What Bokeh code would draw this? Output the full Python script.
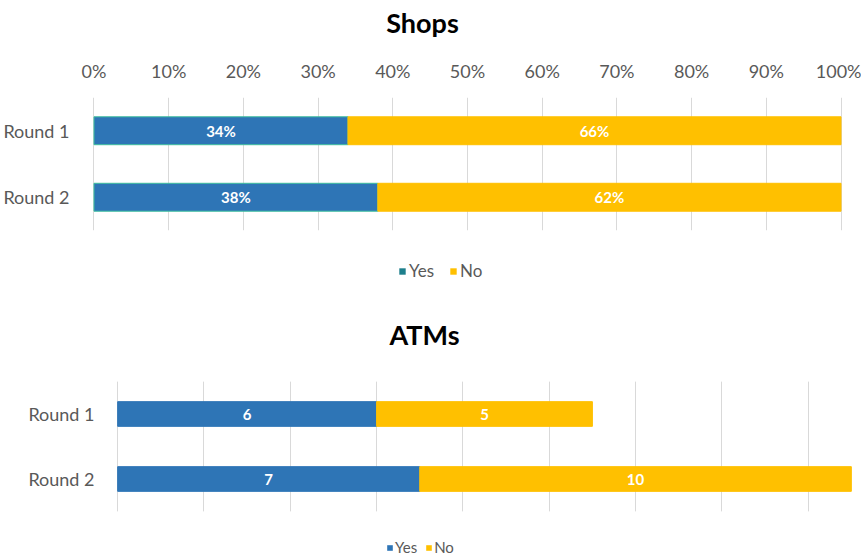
from bokeh.plotting import figure
from bokeh.models import (Range1d, FactorRange, FixedTicker, PrintfTickFormatter, Grid,
                          ColumnDataSource, LabelSet, Legend, LegendItem, Label)
from bokeh.layouts import column
from bokeh.core.properties import value
from bokeh.embed import file_html
from bokeh.resources import INLINE

# ---- data ----
rounds = ["Round 1", "Round 2"]
shops_yes = [34, 38]
shops_no = [66, 62]
atms_yes = [6, 7]
atms_no = [5, 10]
pct_ticks = [0, 10, 20, 30, 40, 50, 60, 70, 80, 90, 100]
atm_grid_ticks = [0, 2, 4, 6, 8, 10, 12, 14, 16]

FONT = "Lato"
BLUE = "#2E75B6"
YELLOW = "#FFC000"
TEAL = "#1D7F8C"
GRAY = "#595959"
GRID = "#D9D9D9"
W = 861


def stacked_source(yes, no, pct):
    suffix = "%" if pct else ""
    return ColumnDataSource(dict(
        cat=rounds,
        yes=yes,
        total=[a + b for a, b in zip(yes, no)],
        mid_yes=[a / 2 for a in yes],
        mid_no=[a + b / 2 for a, b in zip(yes, no)],
        lbl_yes=[f"{a}{suffix}" for a in yes],
        lbl_no=[f"{b}{suffix}" for b in no],
    ))


def style_yaxis(p, standoff):
    p.yaxis.axis_line_color = None
    p.yaxis.major_tick_line_color = None
    p.yaxis.minor_tick_line_color = None
    p.yaxis.major_tick_out = 0
    p.yaxis.major_label_standoff = standoff
    p.yaxis.major_label_text_font = FONT
    p.yaxis.major_label_text_font_size = "18px"
    p.yaxis.major_label_text_color = GRAY
    p.ygrid.grid_line_color = None
    p.outline_line_color = None
    p.frame_align = False


def add_labels(p, src):
    for xf, tf in (("mid_yes", "lbl_yes"), ("mid_no", "lbl_no")):
        p.add_layout(LabelSet(x=xf, y="cat", text=tf, source=src,
                              text_align="center", text_baseline="middle",
                              text_color="white", text_font_style="bold",
                              text_font_size="15px", text_font=value(FONT)))


def text_fig(h):
    f = figure(width=W, height=h, x_range=Range1d(0, W), y_range=Range1d(0, h),
               x_axis_location=None, y_axis_location=None, min_border=0,
               output_backend="svg", toolbar_location=None)
    f.outline_line_color = None
    f.grid.visible = False
    f.frame_align = False
    return f


def title_label(f, text, x, y):
    f.add_layout(Label(x=x, y=y, text=text, text_align="center", text_baseline="middle",
                       text_font=FONT, text_font_size="27px", text_font_style="bold",
                       text_color="#000000"))


src1 = stacked_source(shops_yes, shops_no, True)
src2 = stacked_source(atms_yes, atms_no, False)

# ---- title "Shops" ----
HA = 50
fa = text_fig(HA)
title_label(fa, "Shops", 422, HA - 22)

# ---- Shops chart ----
p1 = figure(y_range=FactorRange(factors=rounds[::-1]), x_range=Range1d(-0.2, 100.2),
            width=W, height=190, x_axis_location="above",
            output_backend="svg", toolbar_location=None,
            min_border_left=91, min_border_right=19, min_border_top=47, min_border_bottom=10)
style_yaxis(p1, 23)
p1.xaxis.ticker = FixedTicker(ticks=pct_ticks)
p1.xaxis.formatter = PrintfTickFormatter(format="%d%%")
p1.xaxis.axis_line_color = None
p1.xaxis.major_tick_line_color = None
p1.xaxis.minor_tick_line_color = None
p1.xaxis.major_tick_out = 0
p1.xaxis.major_label_standoff = 16
p1.xaxis.major_label_text_font = FONT
p1.xaxis.major_label_text_font_size = "18px"
p1.xaxis.major_label_text_color = GRAY
p1.xgrid.ticker = FixedTicker(ticks=pct_ticks)
p1.xgrid.grid_line_color = GRID
p1.hbar(y="cat", left=0, right="yes", height=0.42, source=src1,
        fill_color=BLUE, line_color="#3FBF9F", line_width=1)
p1.hbar(y="cat", left="yes", right="total", height=0.42, source=src1,
        fill_color=YELLOW, line_color=YELLOW)
add_labels(p1, src1)

# ---- legend 1 + title "ATMs" ----
HB = 136
fb = text_fig(HB)
ra = fb.hbar(y="yes", left=0, right=0, height=1, source=src1, fill_color=TEAL, line_color=None)
rb = fb.hbar(y="yes", left=0, right=0, height=1, source=src1, fill_color=YELLOW, line_color=None)
leg1 = Legend(items=[LegendItem(label="Yes", renderers=[ra]),
                     LegendItem(label="No", renderers=[rb])],
              orientation="horizontal", location=(398, HB - 31 - 10), border_line_color=None,
              background_fill_alpha=0, label_text_font=FONT, label_text_font_size="17px",
              label_text_color=GRAY, glyph_width=8, glyph_height=8, label_standoff=3,
              spacing=15, padding=0, margin=0, label_height=17)
fb.add_layout(leg1, "center")
title_label(fb, "ATMs", 424, HB - 94)

# ---- ATMs chart ----
p2 = figure(y_range=FactorRange(factors=rounds[::-1]), x_range=Range1d(-0.05, 17.05),
            width=W, height=144, x_axis_location=None,
            output_backend="svg", toolbar_location=None,
            min_border_left=115, min_border_right=8, min_border_top=5, min_border_bottom=9)
style_yaxis(p2, 21)
p2.add_layout(Grid(dimension=0, ticker=FixedTicker(ticks=atm_grid_ticks), grid_line_color=GRID))
p2.hbar(y="cat", left=0, right="yes", height=0.38, source=src2,
        fill_color=BLUE, line_color=BLUE)
p2.hbar(y="cat", left="yes", right="total", height=0.38, source=src2,
        fill_color=YELLOW, line_color=YELLOW)
add_labels(p2, src2)

# ---- legend 2 ----
HC = 37
fc = text_fig(HC)
rc = fc.hbar(y="yes", left=0, right=0, height=1, source=src2, fill_color=BLUE, line_color=None)
rd = fc.hbar(y="yes", left=0, right=0, height=1, source=src2, fill_color=YELLOW, line_color=None)
leg2 = Legend(items=[LegendItem(label="Yes", renderers=[rc]),
                     LegendItem(label="No", renderers=[rd])],
              orientation="horizontal", location=(386, 1), border_line_color=None,
              background_fill_alpha=0, label_text_font=FONT, label_text_font_size="15px",
              label_text_color=GRAY, glyph_width=7, glyph_height=7, label_standoff=2,
              spacing=8, padding=0, margin=0, label_height=15)
fc.add_layout(leg2, "center")

layout = column(fa, p1, fb, p2, fc, spacing=0)
open("out.html", "w").write(file_html(layout, INLINE))
